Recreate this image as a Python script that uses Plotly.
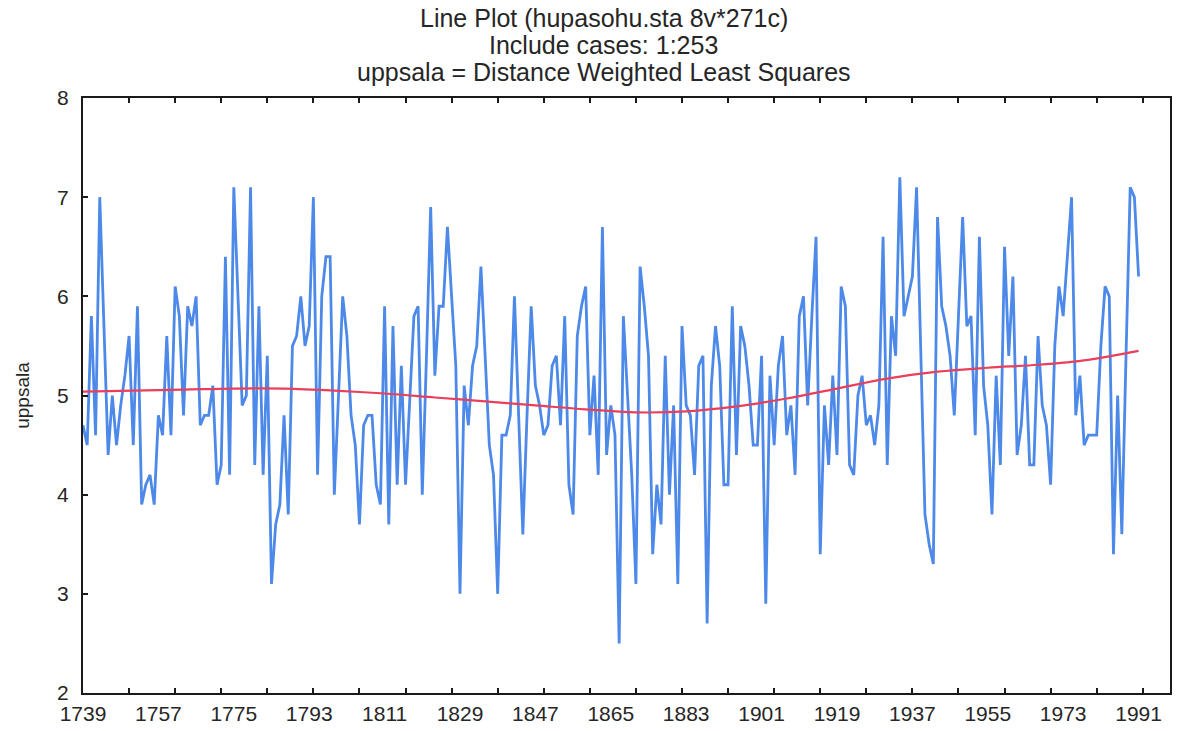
import plotly.graph_objects as go

# ---------------- data ----------------
YEARS = list(range(1739, 1992))

UPPSALA = [
    # 1739-1748
    4.7, 4.5, 5.8, 4.6, 7.0, 5.6, 4.4, 5.0, 4.5, 4.9,
    # 1749-1758
    5.2, 5.6, 4.5, 5.9, 3.9, 4.1, 4.2, 3.9, 4.8, 4.6,
    # 1759-1768
    5.6, 4.6, 6.1, 5.8, 4.8, 5.9, 5.7, 6.0, 4.7, 4.8,
    # 1769-1778
    4.8, 5.1, 4.1, 4.3, 6.4, 4.2, 7.1, 6.0, 4.9, 5.0,
    # 1779-1788
    7.1, 4.3, 5.9, 4.2, 5.4, 3.1, 3.7, 3.9, 4.8, 3.8,
    # 1789-1798
    5.5, 5.6, 6.0, 5.5, 5.7, 7.0, 4.2, 6.0, 6.4, 6.4,
    # 1799-1808
    4.0, 5.0, 6.0, 5.6, 4.8, 4.5, 3.7, 4.7, 4.8, 4.8,
    # 1809-1818
    4.1, 3.9, 5.9, 3.7, 5.7, 4.1, 5.3, 4.1, 5.0, 5.8,
    # 1819-1828
    5.9, 4.0, 5.4, 6.9, 5.2, 5.9, 5.9, 6.7, 6.0, 5.3,
    # 1829-1838
    3.0, 5.1, 4.7, 5.3, 5.5, 6.3, 5.4, 4.5, 4.2, 3.0,
    # 1839-1848
    4.6, 4.6, 4.8, 6.0, 4.8, 3.6, 4.8, 5.9, 5.1, 4.9,
    # 1849-1858
    4.6, 4.7, 5.3, 5.4, 4.7, 5.8, 4.1, 3.8, 5.6, 5.9,
    # 1859-1868
    6.1, 4.6, 5.2, 4.2, 6.7, 4.4, 4.9, 4.6, 2.5, 5.8,
    # 1869-1878
    5.0, 4.2, 3.1, 6.3, 5.9, 5.4, 3.4, 4.1, 3.7, 5.4,
    # 1879-1888
    4.0, 4.9, 3.1, 5.7, 4.9, 4.8, 4.2, 5.3, 5.4, 2.7,
    # 1889-1898
    5.1, 5.7, 5.3, 4.1, 4.1, 5.9, 4.4, 5.7, 5.5, 5.1,
    # 1899-1908
    4.5, 4.5, 5.4, 2.9, 5.2, 4.5, 5.3, 5.6, 4.6, 4.9,
    # 1909-1918
    4.2, 5.8, 6.0, 4.9, 5.8, 6.6, 3.4, 4.9, 4.3, 5.2,
    # 1919-1928
    4.4, 6.1, 5.9, 4.3, 4.2, 5.0, 5.2, 4.7, 4.8, 4.5,
    # 1929-1938
    4.9, 6.6, 4.3, 5.8, 5.4, 7.2, 5.8, 6.0, 6.2, 7.1,
    # 1939-1948
    5.4, 3.8, 3.5, 3.3, 6.8, 5.9, 5.7, 5.4, 4.8, 5.8,
    # 1949-1958
    6.8, 5.7, 5.8, 4.6, 6.6, 5.1, 4.7, 3.8, 5.2, 4.3,
    # 1959-1968
    6.5, 5.4, 6.2, 4.4, 4.7, 5.4, 4.3, 4.3, 5.6, 4.9,
    # 1969-1978
    4.7, 4.1, 5.5, 6.1, 5.8, 6.4, 7.0, 4.8, 5.2, 4.5,
    # 1979-1988
    4.6, 4.6, 4.6, 5.5, 6.1, 6.0, 3.4, 5.0, 3.6, 5.4,
    # 1989-1991
    7.1, 7.0, 6.2,
]
assert len(UPPSALA) == len(YEARS)

# Distance weighted least squares fit, read at sample years
DWLS_YEARS = [1739, 1751, 1763, 1775, 1787, 1799, 1811, 1823, 1835, 1847, 1859,
              1871, 1883, 1895, 1907, 1919, 1931, 1943, 1955, 1967, 1979, 1991]
DWLS_VALUES = [5.04, 5.05, 5.06, 5.07, 5.07, 5.05, 5.02, 4.98, 4.94, 4.90, 4.86,
               4.83, 4.84, 4.89, 4.97, 5.07, 5.17, 5.24, 5.28, 5.31, 5.36, 5.45]

X_LABEL_YEARS = list(range(1739, 1992, 18))
X_TICK_MARK_YEARS = list(range(1739, 1999, 11))
Y_TICKS = [2, 3, 4, 5, 6, 7, 8]

TITLE_LINES = ["Line Plot (hupasohu.sta 8v*271c)",
               "Include cases: 1:253",
               "uppsala = Distance Weighted Least Squares"]
TITLE_LINE_Y = [1.135, 1.089, 1.044]   # paper coordinates (above plot area)

# ---------------- figure ----------------
XRANGE = [1739, 1998.5]
FONT = "Liberation Sans, Arial, sans-serif"
AXIS_COLOR = "#1a1a1a"
TEXT_COLOR = "#262626"

fig = go.Figure()
fig.add_trace(go.Scatter(
    x=YEARS, y=UPPSALA, mode="lines",
    line=dict(color="#4d89e8", width=2.8),
    hoverinfo="x+y", showlegend=False,
))
fig.add_trace(go.Scatter(
    x=DWLS_YEARS, y=DWLS_VALUES, mode="lines", xaxis="x2",
    line=dict(color="#e8405c", width=2.2, shape="spline", smoothing=1.0),
    hoverinfo="x+y", showlegend=False,
))

for txt, yy in zip(TITLE_LINES, TITLE_LINE_Y):
    fig.add_annotation(
        text=txt, xref="paper", yref="paper", x=0.479, y=yy,
        xanchor="center", yanchor="middle", showarrow=False,
        font=dict(family=FONT, size=25, color=TEXT_COLOR),
    )

fig.update_layout(
    width=1178, height=731,
    autosize=False,
    margin=dict(l=83, r=6, t=98, b=33),
    paper_bgcolor="white",
    plot_bgcolor="white",
    font=dict(family=FONT, color=TEXT_COLOR),
    xaxis=dict(
        range=XRANGE,
        tickmode="array",
        tickvals=X_LABEL_YEARS,
        ticktext=[str(v) for v in X_LABEL_YEARS],
        ticks="",
        showgrid=False, zeroline=False,
        showline=True, linecolor=AXIS_COLOR, linewidth=2, mirror=True,
        tickfont=dict(family=FONT, size=21, color=TEXT_COLOR),
        ticklabelstandoff=1,
    ),
    xaxis2=dict(
        range=XRANGE,
        overlaying="x",
        side="bottom",
        anchor="y",
        tickmode="array",
        tickvals=X_TICK_MARK_YEARS,
        showticklabels=False,
        ticks="inside", ticklen=5, tickwidth=2, tickcolor=AXIS_COLOR,
        showgrid=False, zeroline=False,
        showline=False, mirror="ticks",
    ),
    yaxis=dict(
        range=[2, 8],
        tickmode="array",
        tickvals=Y_TICKS,
        ticks="inside", ticklen=5, tickwidth=2, tickcolor=AXIS_COLOR,
        showgrid=False, zeroline=False,
        showline=True, linecolor=AXIS_COLOR, linewidth=2, mirror=True,
        tickfont=dict(family=FONT, size=21, color=TEXT_COLOR),
        ticklabelstandoff=8,
        title=dict(text="uppsala", font=dict(family=FONT, size=19, color=TEXT_COLOR), standoff=22),
    ),
)

fig.write_html("out.html")
